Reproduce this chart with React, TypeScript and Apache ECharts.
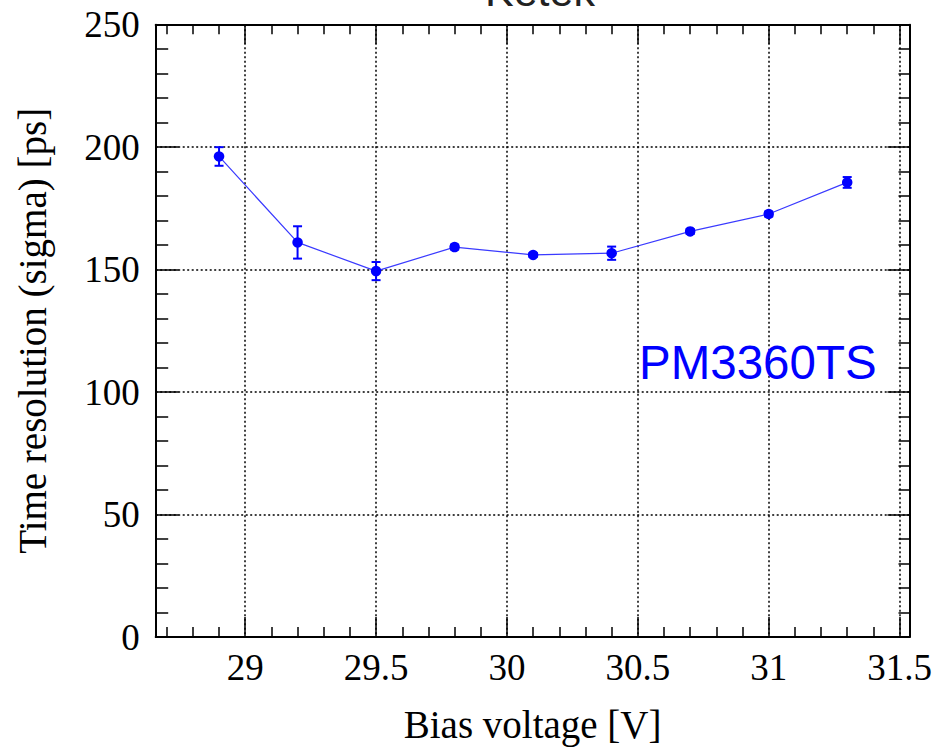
import React, { useEffect, useRef } from "react";
import * as echarts from "echarts";

// Data
const VOLTAGE = [28.9, 29.2, 29.5, 29.8, 30.1, 30.4, 30.7, 31.0, 31.3];
const SIGMA = [196.2, 161.1, 149.4, 159.2, 156.0, 156.7, 165.6, 172.7, 185.6];
const SIGMA_ERR = [3.8, 6.6, 3.7, 1.0, 0.8, 2.7, 1.0, 1.0, 2.2];

// Axis ranges and ticks
const X_MIN = 28.658;
const X_MAX = 31.538;
const X_MAJOR = [29, 29.5, 30, 30.5, 31, 31.5];
const X_MINOR = [
  28.7, 28.8, 28.9, 29.1, 29.2, 29.3, 29.4, 29.6, 29.7, 29.8, 29.9, 30.1, 30.2,
  30.3, 30.4, 30.6, 30.7, 30.8, 30.9, 31.1, 31.2, 31.3, 31.4,
];
const Y_MIN = 0;
const Y_MAX = 250;
const Y_INTERVAL = 50;

const TITLE = "Ketek";
const X_TITLE = "Bias voltage [V]";
const Y_TITLE = "Time resolution (sigma) [ps]";
const LABEL = "PM3360TS";

const SERIF = '"Liberation Serif", "Times New Roman", serif';
const SANS = '"Liberation Sans", Arial, sans-serif';
const BLUE = "#0000ff";

export default function App() {
  const ref = useRef<HTMLDivElement>(null);

  useEffect(() => {
    if (!ref.current) return;
    const chart = echarts.init(ref.current, null, { renderer: "svg" });

    const frameLine = { show: true, lineStyle: { color: "#000", width: 2 } };
    const dotted = { show: true, lineStyle: { color: "#000", width: 1.5, type: [2, 2.5] as any } };

    const xBase = {
      type: "value" as const,
      min: X_MIN,
      max: X_MAX,
      gridIndex: 0,
    };

    const option: any = {
      animation: false,
      backgroundColor: "#fff",
      grid: { left: 155.7, top: 24.7, right: 40.5, bottom: 112, containLabel: false },
      xAxis: [
        {
          ...xBase,
          position: "bottom",
          axisLine: frameLine,
          axisTick: { show: true, inside: true, length: 20, customValues: X_MAJOR, lineStyle: { color: "#000", width: 1.5 } },
          axisLabel: {
            show: true,
            customValues: X_MAJOR,
            margin: 12,
            color: "#000",
            fontFamily: SERIF,
            fontSize: 37,
            formatter: (v: number) => String(v),
          },
          splitLine: dotted,
          name: X_TITLE,
          nameLocation: "middle",
          nameGap: 68,
          nameTextStyle: { color: "#000", fontFamily: SERIF, fontSize: 39 },
        },
        {
          ...xBase,
          position: "bottom",
          axisLine: { show: false },
          axisTick: { show: true, inside: true, length: 10, customValues: X_MINOR, lineStyle: { color: "#000", width: 1.5 } },
          axisLabel: { show: false },
          splitLine: { show: false },
        },
        {
          ...xBase,
          position: "top",
          axisLine: frameLine,
          axisTick: { show: true, inside: true, length: 19, customValues: X_MAJOR, lineStyle: { color: "#000", width: 1.5 } },
          axisLabel: { show: false },
          splitLine: { show: false },
        },
        {
          ...xBase,
          position: "top",
          axisLine: { show: false },
          axisTick: { show: true, inside: true, length: 9.5, customValues: X_MINOR, lineStyle: { color: "#000", width: 1.5 } },
          axisLabel: { show: false },
          splitLine: { show: false },
        },
      ],
      yAxis: [
        {
          type: "value",
          min: Y_MIN,
          max: Y_MAX,
          interval: Y_INTERVAL,
          position: "left",
          axisLine: frameLine,
          axisTick: { show: true, inside: true, length: 23, lineStyle: { color: "#000", width: 1.5 } },
          minorTick: { show: true, splitNumber: 5, length: 12.5, lineStyle: { color: "#000", width: 1.5 } },
          axisLabel: { show: true, margin: 16, color: "#000", fontFamily: SERIF, fontSize: 37 },
          splitLine: dotted,
          name: Y_TITLE,
          nameLocation: "middle",
          nameGap: 104,
          nameTextStyle: { color: "#000", fontFamily: SERIF, fontSize: 39 },
        },
        {
          type: "value",
          min: Y_MIN,
          max: Y_MAX,
          interval: Y_INTERVAL,
          position: "right",
          axisLine: frameLine,
          axisTick: { show: true, inside: true, length: 22, lineStyle: { color: "#000", width: 1.5 } },
          minorTick: { show: true, splitNumber: 5, length: 11, lineStyle: { color: "#000", width: 1.5 } },
          axisLabel: { show: false },
          splitLine: { show: false },
        },
      ],
      graphic: [
        {
          type: "text",
          z: 10,
          style: {
            text: TITLE,
            x: 540,
            y: -9,
            align: "center",
            verticalAlign: "middle",
            textAlign: "center",
            textVerticalAlign: "middle",
            fontFamily: SANS,
            fontSize: 43,
            fill: "#222",
          },
        },
        {
          type: "text",
          z: 10,
          style: {
            text: LABEL,
            x: 639,
            y: 362,
            align: "left",
            verticalAlign: "middle",
            textAlign: "left",
            textVerticalAlign: "middle",
            fontFamily: SANS,
            fontSize: 47.5,
            fill: BLUE,
          },
        },
      ],
      series: [
        {
          type: "custom",
          xAxisIndex: 0,
          yAxisIndex: 0,
          z: 3,
          data: VOLTAGE.map((v, i) => [v, SIGMA[i], SIGMA_ERR[i]]),
          encode: { x: 0, y: 1 },
          renderItem: (params: any, api: any) => {
            const x = api.value(0);
            const y = api.value(1);
            const e = api.value(2);
            const top = api.coord([x, y + e]);
            const bot = api.coord([x, y - e]);
            const hw = 4.5;
            const st = { stroke: BLUE, lineWidth: 2 };
            return {
              type: "group",
              children: [
                { type: "line", shape: { x1: top[0], y1: top[1], x2: bot[0], y2: bot[1] }, style: st },
                { type: "line", shape: { x1: top[0] - hw, y1: top[1], x2: top[0] + hw, y2: top[1] }, style: st },
                { type: "line", shape: { x1: bot[0] - hw, y1: bot[1], x2: bot[0] + hw, y2: bot[1] }, style: st },
              ],
            };
          },
        },
        {
          type: "line",
          xAxisIndex: 0,
          yAxisIndex: 0,
          z: 4,
          data: VOLTAGE.map((v, i) => [v, SIGMA[i]]),
          symbol: "circle",
          symbolSize: 10.5,
          lineStyle: { color: "#3a3aff", width: 1.2 },
          itemStyle: { color: BLUE },
        },
      ],
    };

    chart.setOption(option);
    return () => chart.dispose();
  }, []);

  return (
    <div
      ref={ref}
      style={{ position: "fixed", left: 0, top: 0, width: 950, height: 749, background: "#fff" }}
    />
  );
}
